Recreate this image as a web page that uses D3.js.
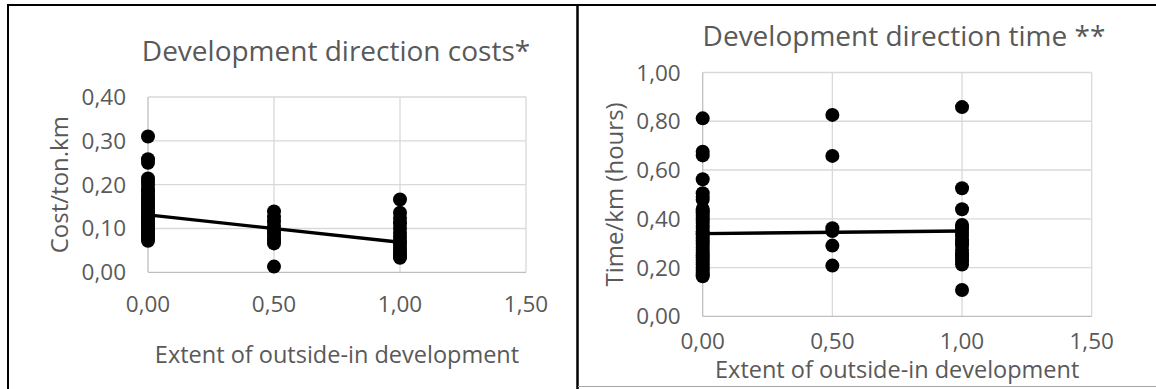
<!DOCTYPE html>
<html>
<head>
<meta charset="utf-8">
<script src="https://cdn.jsdelivr.net/npm/d3@7"></script>
<style>
  html, body { margin: 0; padding: 0; background: #fff; }
  svg { display: block; }
  text { font-family: "Open Sans", "Noto Sans", sans-serif; fill: #595959; }
</style>
</head>
<body>
<svg id="chart" width="1156" height="389"></svg>
<script>
// Shared x-axis: extent of outside-in development
const xTicks = [0, 0.5, 1.0, 1.5];

// Costs per ton.km, grouped by development extent
const costAt0 = [0.310, 0.258, 0.250, 0.214, 0.207, 0.200, 0.191, 0.185, 0.179, 0.172,
                 0.168, 0.163, 0.158, 0.151, 0.147, 0.142, 0.136, 0.133, 0.127, 0.121,
                 0.118, 0.112, 0.108, 0.103, 0.097, 0.093, 0.087, 0.081, 0.078, 0.072];
const costAt05 = [0.139, 0.126, 0.116, 0.106, 0.097, 0.089, 0.081, 0.073, 0.066, 0.013];
const costAt1 = [0.166, 0.136, 0.124, 0.112, 0.101, 0.090, 0.081, 0.072, 0.066,
                 0.058, 0.050, 0.043, 0.037, 0.033];
const costTicks = [0, 0.1, 0.2, 0.3, 0.4];
const costTrend = [0.131, 0.0685];   // trend line values at x = 0 and x = 1

// Time per km (hours), grouped by development extent
const timeAt0 = [0.812, 0.675, 0.660, 0.562, 0.505, 0.490, 0.478, 0.440, 0.431, 0.422,
                 0.412, 0.401, 0.392, 0.383, 0.371, 0.362, 0.350, 0.341, 0.333, 0.322,
                 0.311, 0.302, 0.293, 0.281, 0.272, 0.261, 0.250, 0.241, 0.232, 0.221,
                 0.212, 0.200, 0.191, 0.180, 0.171, 0.164];
const timeAt05 = [0.826, 0.658, 0.361, 0.350, 0.290, 0.208];
const timeAt1 = [0.858, 0.525, 0.439, 0.375, 0.366, 0.355, 0.342, 0.330, 0.312, 0.300,
                 0.290, 0.272, 0.260, 0.250, 0.240, 0.226, 0.212, 0.108];
const timeTicks = [0, 0.2, 0.4, 0.6, 0.8, 1.0];
const timeTrend = [0.339, 0.350];

const fmt = v => d3.format(".2f")(v).replace(".", ",");
const svg = d3.select("#chart");

// Panel frames
svg.append("line").attr("x1", 8).attr("x2", 1156).attr("y1", 5).attr("y2", 5)
  .attr("stroke", "#000").attr("stroke-width", 2);
svg.append("line").attr("x1", 8).attr("x2", 8).attr("y1", 4).attr("y2", 389)
  .attr("stroke", "#000").attr("stroke-width", 2);
svg.append("line").attr("x1", 577.5).attr("x2", 577.5).attr("y1", 4).attr("y2", 389)
  .attr("stroke", "#000").attr("stroke-width", 2.5);
svg.append("line").attr("x1", 578).attr("x2", 1156).attr("y1", 386.5).attr("y2", 386.5)
  .attr("stroke", "#a6a6a6").attr("stroke-width", 1.2);

function drawPanel(p) {
  const x = d3.scaleLinear().domain([0, 1.5]).range([p.left, p.right]);
  const y = d3.scaleLinear().domain([0, p.yMax]).range([p.bottom, p.top]);
  const g = svg.append("g");

  // gridlines
  g.append("g").selectAll("line").data(p.yTicks.filter(t => t > 0)).join("line")
    .attr("x1", p.left).attr("x2", p.right)
    .attr("y1", d => y(d)).attr("y2", d => y(d))
    .attr("stroke", "#d9d9d9").attr("stroke-width", 1.3);
  g.append("g").selectAll("line").data(xTicks.filter(t => t > 0)).join("line")
    .attr("x1", d => x(d)).attr("x2", d => x(d))
    .attr("y1", p.top).attr("y2", p.bottom)
    .attr("stroke", "#d9d9d9").attr("stroke-width", 1.3);
  // axis lines
  g.append("line").attr("x1", p.left).attr("x2", p.right)
    .attr("y1", y(0)).attr("y2", y(0)).attr("stroke", "#bfbfbf").attr("stroke-width", 1.3);
  g.append("line").attr("x1", x(0)).attr("x2", x(0))
    .attr("y1", p.top).attr("y2", p.bottom).attr("stroke", "#bfbfbf").attr("stroke-width", 1.3);

  // tick labels
  g.append("g").selectAll("text").data(p.yTicks).join("text")
    .attr("x", p.left - 22).attr("y", d => y(d) + 8)
    .attr("text-anchor", "end").attr("font-size", 22.5).text(fmt);
  g.append("g").selectAll("text").data(xTicks).join("text")
    .attr("x", d => x(d)).attr("y", p.xTickBase)
    .attr("text-anchor", "middle").attr("font-size", 22.5).text(fmt);

  // titles
  g.append("text").attr("x", p.titleX).attr("y", p.titleBase)
    .attr("text-anchor", "middle").attr("font-size", 28).text(p.title);
  g.append("text").attr("x", (p.left + p.right) / 2).attr("y", p.xTitleBase)
    .attr("text-anchor", "middle").attr("font-size", 23.5).text(p.xTitle);
  g.append("text")
    .attr("transform", `translate(${p.left - 80},${(p.top + p.bottom) / 2}) rotate(-90)`)
    .attr("text-anchor", "middle").attr("font-size", 24).text(p.yTitle);

  // points
  const pts = [];
  p.groups.forEach(([gx, vals]) => vals.forEach(v => pts.push([gx, v])));
  g.append("g").selectAll("circle").data(pts).join("circle")
    .attr("cx", d => x(d[0])).attr("cy", d => y(d[1])).attr("r", 7)
    .attr("fill", "#000");

  // linear trend line
  g.append("line")
    .attr("x1", x(0)).attr("y1", y(p.trend[0]))
    .attr("x2", x(1)).attr("y2", y(p.trend[1]))
    .attr("stroke", "#000").attr("stroke-width", 3.4);
}

drawPanel({
  left: 148, right: 526, top: 97, bottom: 272.3, yMax: 0.4,
  yTicks: costTicks,
  groups: [[0, costAt0], [0.5, costAt05], [1, costAt1]],
  trend: costTrend,
  title: "Development direction costs*", titleX: 336, titleBase: 61,
  xTitle: "Extent of outside-in development", xTitleBase: 363,
  yTitle: "Cost/ton.km", xTickBase: 312
});

drawPanel({
  left: 702.7, right: 1091.7, top: 72.5, bottom: 316.3, yMax: 1.0,
  yTicks: timeTicks,
  groups: [[0, timeAt0], [0.5, timeAt05], [1, timeAt1]],
  trend: timeTrend,
  title: "Development direction time **", titleX: 904, titleBase: 46,
  xTitle: "Extent of outside-in development", xTitleBase: 378,
  yTitle: "Time/km (hours)", xTickBase: 349
});
</script>
</body>
</html>
